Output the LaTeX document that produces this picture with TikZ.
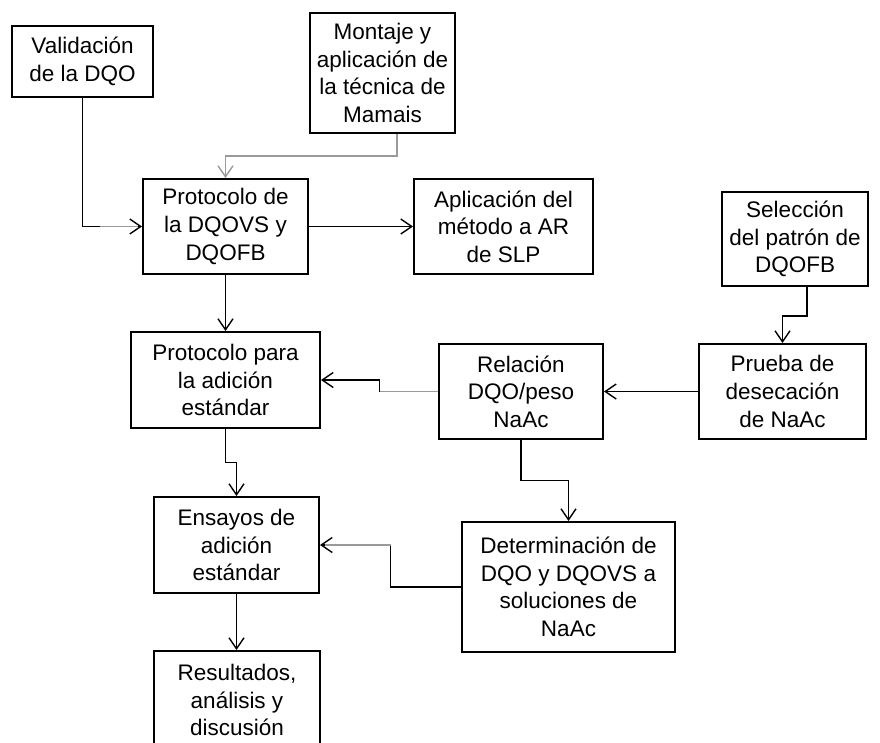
\documentclass[tikz,border=0pt]{standalone}
\usepackage{fontspec}
\setmainfont{Liberation Sans}
\usetikzlibrary{arrows.meta,calc}
\definecolor{lgray}{HTML}{9A9A9A}
\tikzset{
  box/.style={draw=black, line width=2pt, inner sep=0pt, align=center,
    font=\fontsize{22.5}{27.6}\selectfont},
  conn/.style={line width=1.7pt, -{Straight Barb[length=11pt,width=15pt,line width=1.4pt]}},
  grayseg/.style={line width=1.7pt, draw=lgray},
}
\begin{document}
\begin{tikzpicture}[x=1pt,y=-1pt]
\clip (0,0) rectangle (880,742);
\fill[white] (0,0) rectangle (880,742);
\node[box, minimum width=141pt, minimum height=71pt] (val) at (82.5,61.5) {Validación\\de la DQO};
\node[box, minimum width=145pt, minimum height=120pt] (mon) at (382.5,73) {Montaje y\\aplicación de\\la técnica de\\Mamais};
\node[box, minimum width=165pt, minimum height=95pt] (pdq) at (225.5,226.5) {Protocolo de\\la DQOVS y\\DQOFB};
\node[box, minimum width=179pt, minimum height=95pt] (apl) at (503.5,226.5) {Aplicación del\\método a AR\\de SLP};
\node[box, minimum width=146pt, minimum height=94pt] (sel) at (795,239) {Selección\\del patrón de\\DQOFB};
\node[box, minimum width=167pt, minimum height=95pt] (pru) at (782.5,391.5) {Prueba de\\desecación\\de NaAc};
\node[box, minimum width=164pt, minimum height=95pt] (rel) at (521,391.5) {Relación\\DQO/peso\\NaAc};
\node[box, minimum width=189pt, minimum height=96pt] (ppa) at (225.5,380) {Protocolo para\\la adición\\estándar};
\node[box, minimum width=165pt, minimum height=96pt] (ens) at (236.5,545) {Ensayos de\\adición\\estándar};
\node[box, minimum width=213pt, minimum height=130pt] (det) at (568.5,587) {Determinación de\\DQO y DQOVS a\\soluciones de\\NaAc};
\node[box, minimum width=166pt, minimum height=98pt] (res) at (237,700) {Resultados,\\análisis y\\discusión};

% connectors
\draw[conn] (val) |- (pdq);
\draw[grayseg] ($(val.center |- pdq.west)+(17,0)$) -- ($(pdq.west)+(-4,0)$);
\coordinate (mA) at ($(mon.south)+(14.5,0)$);
\coordinate (mB) at ($(mA)+(0,22)$);
\draw[conn, draw=lgray] (mA) -- (mB) -| (pdq.north);
\draw[conn] (pdq) -- (apl);
\draw[conn] (pdq) -- (ppa);
\coordinate (sA) at ($(sel.south)+(12,0)$);
\coordinate (sB) at ($(sA)+(0,29)$);
\draw[conn] (sA) -- (sB) -| (pru.north);
\draw[conn] (pru) -- (rel);
\coordinate (m1) at ($(ppa.east)!.5!(rel.west)$);
\draw[conn] (rel.west) -| (m1) |- (ppa.east);
\draw[grayseg] (rel.west) -- (rel.west -| m1);
\coordinate (m2) at ($(rel.south)!.5!(det.north)$);
\draw[conn] (rel.south) |- (m2) -| (det.north);
\coordinate (m3) at ($(ppa.south)!.5!(ens.north)$);
\draw[conn] (ppa.south) |- (m3) -| (ens.north);
\coordinate (m4) at ($(ens.east)!.5!(det.west)$);
\draw[conn] (det.west) -| (m4) |- (ens.east);
\draw[grayseg] (m4 |- ens.east) -- ($(ens.east)+(5,0)$);
\draw[conn] (ens.south) -- (ens.south |- res.north);
\end{tikzpicture}
\end{document}
